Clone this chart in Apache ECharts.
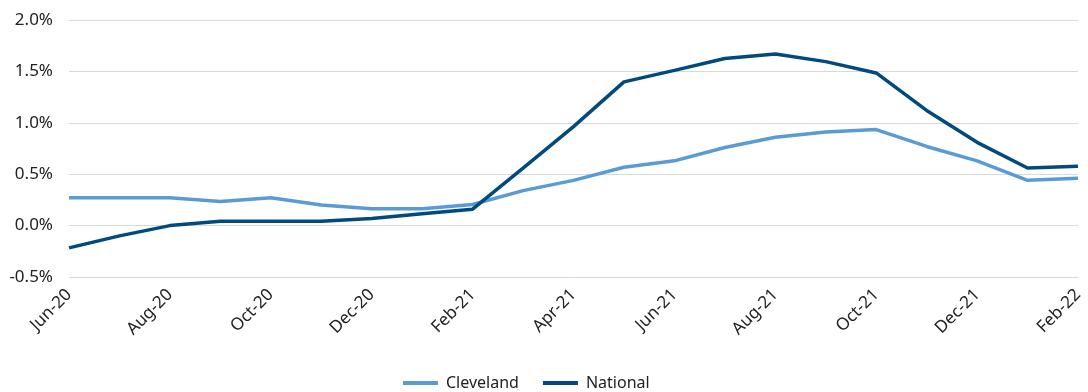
<!DOCTYPE html>
<html>
<head>
<meta charset="utf-8">
<script src="https://cdn.jsdelivr.net/npm/echarts@6/dist/echarts.min.js"></script>
<style>
  html, body { margin: 0; padding: 0; background: #fff; }
  #chart { width: 1088px; height: 392px; }
</style>
</head>
<body>
<div id="chart"></div>
<script>
// Monthly change, Jun-20 through Feb-22 (percent)
const months = ['Jun-20','Jul-20','Aug-20','Sep-20','Oct-20','Nov-20','Dec-20','Jan-21','Feb-21','Mar-21',
                'Apr-21','May-21','Jun-21','Jul-21','Aug-21','Sep-21','Oct-21','Nov-21','Dec-21','Jan-22','Feb-22'];
const cleveland = [0.27, 0.27, 0.27, 0.235, 0.27, 0.20, 0.165, 0.165, 0.205, 0.34,
                   0.44, 0.567, 0.63, 0.76, 0.86, 0.91, 0.934, 0.77, 0.63, 0.44, 0.46];
const national  = [-0.217, -0.10, 0.0, 0.042, 0.042, 0.042, 0.07, 0.115, 0.16, 0.56,
                   0.963, 1.398, 1.51, 1.625, 1.67, 1.595, 1.485, 1.12, 0.81, 0.56, 0.577];

const font = '"Noto Sans", "Open Sans", sans-serif';
const chart = echarts.init(document.getElementById('chart'));
chart.setOption({
  animation: false,
  grid: { left: 69, right: 10, top: 20, bottom: 115, containLabel: false },
  legend: {
    top: 370,
    left: 398,
    icon: 'rect',
    itemWidth: 35,
    itemHeight: 4,
    itemGap: 24,
    textStyle: { fontFamily: font, fontSize: 16, color: '#222', padding: [0, 0, 0, 3] },
    data: ['Cleveland', 'National']
  },
  xAxis: {
    type: 'category',
    data: months,
    boundaryGap: false,
    axisLine: { show: false },
    axisTick: { show: false },
    axisLabel: {
      interval: 1,
      rotate: 45,
      margin: 15,
      fontFamily: font,
      fontSize: 17,
      color: '#222'
    }
  },
  yAxis: {
    type: 'value',
    min: -0.5,
    max: 2.0,
    interval: 0.5,
    axisLine: { show: false },
    axisTick: { show: false },
    splitLine: { lineStyle: { color: '#d9d9d9', width: 1 } },
    axisLabel: {
      margin: 16,
      fontFamily: font,
      fontSize: 17,
      color: '#222',
      formatter: v => v.toFixed(1) + '%'
    }
  },
  series: [
    {
      name: 'Cleveland', type: 'line', data: cleveland,
      symbol: 'none', color: '#5b9bd5',
      lineStyle: { width: 3.5, color: '#5b9bd5' }
    },
    {
      name: 'National', type: 'line', data: national,
      symbol: 'none', color: '#004a80',
      lineStyle: { width: 3.5, color: '#004a80' }
    }
  ]
});
</script>
</body>
</html>
